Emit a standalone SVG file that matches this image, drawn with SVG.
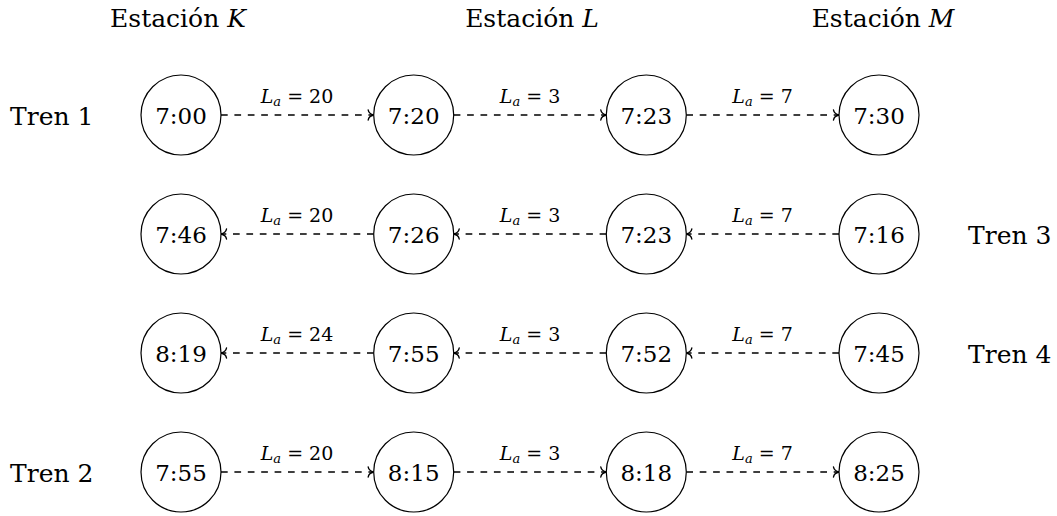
<svg xmlns="http://www.w3.org/2000/svg" width="1057" height="516" viewBox="0 0 1057 516">
<style>
text{fill:#000;font-family:'DejaVu Serif','Liberation Serif',serif}
.hdr{font-size:25px;text-anchor:middle}
.row{font-size:25px}
.nt{font-size:23px;text-anchor:middle}
.lbl{font-size:19px;text-anchor:middle}
.sub{font-size:13px;font-style:italic}
.it{font-style:italic}
circle{fill:#fff;stroke:#000;stroke-width:1.2}
.e{stroke:#000;stroke-width:1.3;fill:none;stroke-dasharray:6.7 6.7;marker-end:url(#ah)}
</style>
<defs>
<marker id="ah" markerUnits="userSpaceOnUse" viewBox="-8 -7 10 14" markerWidth="10" markerHeight="14" refX="0" refY="0" orient="auto">
<path d="M-5.5,-5 C-5,-2 -2.1,-0.45 0,0 C-2.1,0.45 -5,2 -5.5,5" fill="none" stroke="#000" stroke-width="1.4" stroke-linecap="round"/>
</marker>
</defs>
<rect width="1057" height="516" fill="#fff"/>
<g id="headers">
<text class="hdr" x="178" y="27">Estación <tspan class="it">K</tspan></text>
<text class="hdr" x="532" y="27">Estación <tspan class="it">L</tspan></text>
<text class="hdr" x="883" y="27">Estación <tspan class="it">M</tspan></text>
</g>
<g id="trains">
<text class="row" x="10" y="125">Tren 1</text>
<text class="row" x="968" y="244">Tren 3</text>
<text class="row" x="968" y="363">Tren 4</text>
<text class="row" x="10" y="482">Tren 2</text>
</g>
<g id="connectors">
<line class="e" x1="221" y1="115" x2="373.7" y2="115"/>
<line class="e" x1="453.7" y1="115" x2="606.3" y2="115"/>
<line class="e" x1="686.3" y1="115" x2="839" y2="115"/>
<line class="e" x1="839" y1="234" x2="686.3" y2="234"/>
<line class="e" x1="606.3" y1="234" x2="453.7" y2="234"/>
<line class="e" x1="373.7" y1="234" x2="221" y2="234"/>
<line class="e" x1="839" y1="353" x2="686.3" y2="353"/>
<line class="e" x1="606.3" y1="353" x2="453.7" y2="353"/>
<line class="e" x1="373.7" y1="353" x2="221" y2="353"/>
<line class="e" x1="221" y1="472" x2="373.7" y2="472"/>
<line class="e" x1="453.7" y1="472" x2="606.3" y2="472"/>
<line class="e" x1="686.3" y1="472" x2="839" y2="472"/>
</g>
<g id="edge-labels">
<text class="lbl" x="297" y="103"><tspan class="it">L</tspan><tspan class="sub" dy="3">a</tspan><tspan dy="-3"> = 20</tspan></text>
<text class="lbl" x="530" y="103"><tspan class="it">L</tspan><tspan class="sub" dy="3">a</tspan><tspan dy="-3"> = 3</tspan></text>
<text class="lbl" x="762.6" y="103"><tspan class="it">L</tspan><tspan class="sub" dy="3">a</tspan><tspan dy="-3"> = 7</tspan></text>
<text class="lbl" x="297" y="222"><tspan class="it">L</tspan><tspan class="sub" dy="3">a</tspan><tspan dy="-3"> = 20</tspan></text>
<text class="lbl" x="530" y="222"><tspan class="it">L</tspan><tspan class="sub" dy="3">a</tspan><tspan dy="-3"> = 3</tspan></text>
<text class="lbl" x="762.6" y="222"><tspan class="it">L</tspan><tspan class="sub" dy="3">a</tspan><tspan dy="-3"> = 7</tspan></text>
<text class="lbl" x="297" y="341"><tspan class="it">L</tspan><tspan class="sub" dy="3">a</tspan><tspan dy="-3"> = 24</tspan></text>
<text class="lbl" x="530" y="341"><tspan class="it">L</tspan><tspan class="sub" dy="3">a</tspan><tspan dy="-3"> = 3</tspan></text>
<text class="lbl" x="762.6" y="341"><tspan class="it">L</tspan><tspan class="sub" dy="3">a</tspan><tspan dy="-3"> = 7</tspan></text>
<text class="lbl" x="297" y="460"><tspan class="it">L</tspan><tspan class="sub" dy="3">a</tspan><tspan dy="-3"> = 20</tspan></text>
<text class="lbl" x="530" y="460"><tspan class="it">L</tspan><tspan class="sub" dy="3">a</tspan><tspan dy="-3"> = 3</tspan></text>
<text class="lbl" x="762.6" y="460"><tspan class="it">L</tspan><tspan class="sub" dy="3">a</tspan><tspan dy="-3"> = 7</tspan></text>
</g>
<g id="n1a"><circle cx="181" cy="115" r="40"/><text class="nt" x="181" y="123.5">7:00</text></g>
<g id="n1b"><circle cx="413.7" cy="115" r="40"/><text class="nt" x="413.7" y="123.5">7:20</text></g>
<g id="n1c"><circle cx="646.3" cy="115" r="40"/><text class="nt" x="646.3" y="123.5">7:23</text></g>
<g id="n1d"><circle cx="879" cy="115" r="40"/><text class="nt" x="879" y="123.5">7:30</text></g>
<g id="n3a"><circle cx="181" cy="234" r="40"/><text class="nt" x="181" y="242.5">7:46</text></g>
<g id="n3b"><circle cx="413.7" cy="234" r="40"/><text class="nt" x="413.7" y="242.5">7:26</text></g>
<g id="n3c"><circle cx="646.3" cy="234" r="40"/><text class="nt" x="646.3" y="242.5">7:23</text></g>
<g id="n3d"><circle cx="879" cy="234" r="40"/><text class="nt" x="879" y="242.5">7:16</text></g>
<g id="n4a"><circle cx="181" cy="353" r="40"/><text class="nt" x="181" y="361.5">8:19</text></g>
<g id="n4b"><circle cx="413.7" cy="353" r="40"/><text class="nt" x="413.7" y="361.5">7:55</text></g>
<g id="n4c"><circle cx="646.3" cy="353" r="40"/><text class="nt" x="646.3" y="361.5">7:52</text></g>
<g id="n4d"><circle cx="879" cy="353" r="40"/><text class="nt" x="879" y="361.5">7:45</text></g>
<g id="n2a"><circle cx="181" cy="472" r="40"/><text class="nt" x="181" y="480.5">7:55</text></g>
<g id="n2b"><circle cx="413.7" cy="472" r="40"/><text class="nt" x="413.7" y="480.5">8:15</text></g>
<g id="n2c"><circle cx="646.3" cy="472" r="40"/><text class="nt" x="646.3" y="480.5">8:18</text></g>
<g id="n2d"><circle cx="879" cy="472" r="40"/><text class="nt" x="879" y="480.5">8:25</text></g>
</svg>
